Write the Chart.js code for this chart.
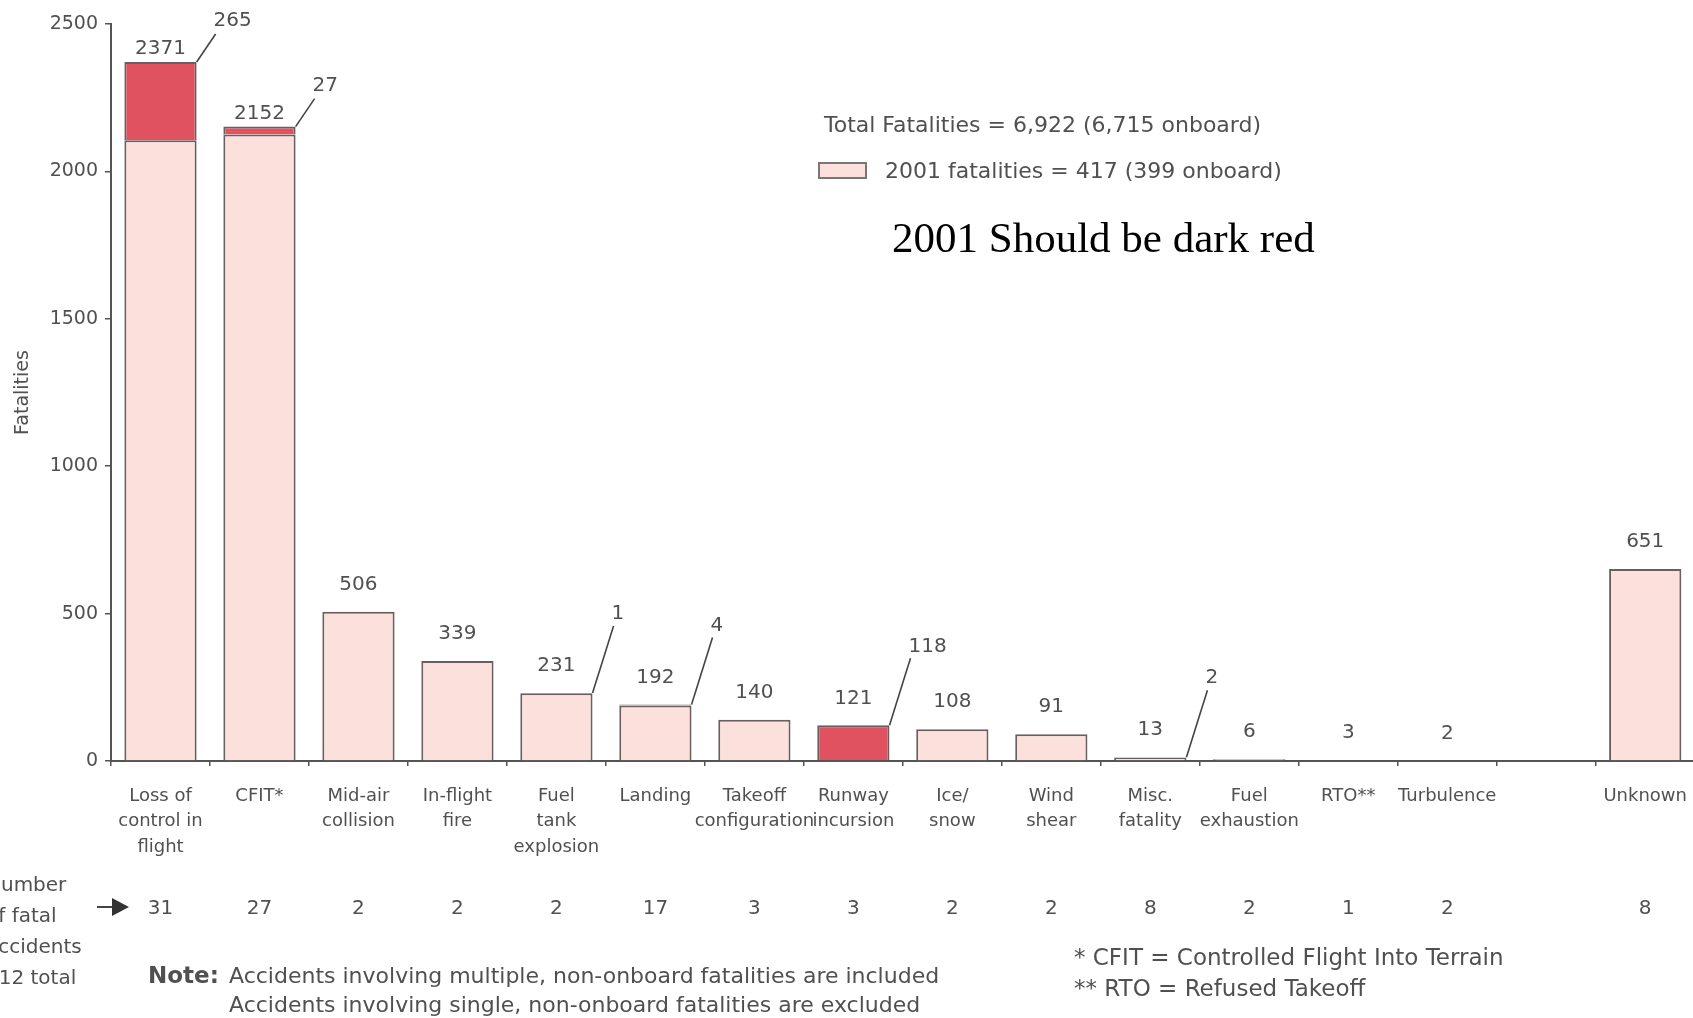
<!DOCTYPE html>
<html>
<head>
    <title>Fatalities by accident category</title>
    <script src="https://cdn.jsdelivr.net/npm/chart.js"></script>
    <style>
        html, body { margin: 0; padding: 0; background: #fff; overflow: hidden; }
        /* slightly wider than the window so the last slot runs to the edge */
        #wrap { width: 1705px; height: 1018px; }
    </style>
</head>
<body>
    <div id="wrap"><canvas id="fatalities"></canvas></div>
    <script>
        // accident categories (one empty slot before "Unknown")
        var categories = [
            ['Loss of', 'control in', 'flight'], 'CFIT*', ['Mid-air', 'collision'], ['In-flight', 'fire'],
            ['Fuel', 'tank', 'explosion'], 'Landing', ['Takeoff', 'configuration'], ['Runway', 'incursion'],
            ['Ice/', 'snow'], ['Wind', 'shear'], ['Misc.', 'fatality'], ['Fuel', 'exhaustion'],
            'RTO**', 'Turbulence', '', 'Unknown'
        ];
        var totalFatalities = [2371, 2152, 506, 339, 231, 192, 140, 121, 108, 91, 13, 6, 3, 2, null, 651];
        var fatalities2001 = [265, 27, 0, 0, 1, 4, 0, 118, 0, 0, 2, 0, 0, 0, null, 0];
        var fatalAccidents = [31, 27, 2, 2, 2, 17, 3, 3, 2, 2, 8, 2, 1, 2, null, 8];
        var yTicks = [0, 500, 1000, 1500, 2000, 2500];

        var totalText = 'Total Fatalities = 6,922 (6,715 onboard)';
        var legendText = '2001 fatalities = 417 (399 onboard)';
        var accidentsText = ['Number', 'of fatal', 'accidents', '112 total'];
        var noteLines = ['Accidents involving multiple, non-onboard fatalities are included',
                         'Accidents involving single, non-onboard fatalities are excluded'];
        var footnotes = ['* CFIT = Controlled Flight Into Terrain', '** RTO = Refused Takeoff'];

        var SANS = '"DejaVu Sans", "Liberation Sans", sans-serif';
        var TEXT = '#505050';
        var PINK = '#fbe0dc';
        var RED = '#e0525f';
        var EDGE = '#6a5e5e';

        // earlier years = total minus the 2001 part
        var earlier = totalFatalities.map(function (t, i) {
            return t == null ? null : t - fatalities2001[i];
        });
        var only2001 = fatalities2001.map(function (v) { return v ? v : null; });

        // labels, callouts, accident counts and notes drawn over the bars
        var extras = {
            id: 'extras',
            afterDatasetsDraw: function (chart) {
                var ctx = chart.ctx;
                var xs = chart.scales.x, ys = chart.scales.y;
                var bars = chart.getDatasetMeta(0).data;
                var area = chart.chartArea;
                ctx.save();
                ctx.fillStyle = TEXT;
                ctx.strokeStyle = '#444';
                ctx.font = '20px ' + SANS;
                ctx.textBaseline = 'middle';

                for (var i = 0; i < categories.length; i++) {
                    if (totalFatalities[i] == null) continue;
                    var cx = xs.getPixelForValue(i);
                    var top = ys.getPixelForValue(totalFatalities[i]);
                    var tall = totalFatalities[i] > 2000;

                    ctx.textAlign = 'center';
                    ctx.fillText(String(totalFatalities[i]), cx, top - (tall ? 13 : 27));

                    if (fatalities2001[i] > 0) {
                        var x0 = cx + bars[i].width / 2;
                        var x1 = x0 + (tall ? 19 : 21);
                        var y1 = top - (tall ? 28 : 67);
                        ctx.lineWidth = 1.6;
                        ctx.beginPath();
                        ctx.moveTo(x0, top);
                        ctx.lineTo(x1, y1);
                        ctx.stroke();
                        ctx.textAlign = 'left';
                        ctx.fillText(String(fatalities2001[i]), x1 - 2, y1 - (tall ? 13 : 12));
                    }

                    ctx.textAlign = 'center';
                    ctx.fillText(String(fatalAccidents[i]), cx, area.bottom + 148);
                }

                // row caption with arrow
                ctx.textAlign = 'left';
                accidentsText.forEach(function (t, k) {
                    ctx.fillText(t, -14, area.bottom + 125 + k * 31);
                });
                var ay = area.bottom + 146;
                ctx.lineWidth = 2;
                ctx.beginPath();
                ctx.moveTo(97, ay);
                ctx.lineTo(114, ay);
                ctx.stroke();
                ctx.fillStyle = '#333';
                ctx.beginPath();
                ctx.moveTo(129, ay);
                ctx.lineTo(112, ay - 9);
                ctx.lineTo(112, ay + 9);
                ctx.closePath();
                ctx.fill();

                // totals box
                ctx.fillStyle = TEXT;
                ctx.font = '22px ' + SANS;
                ctx.fillText(totalText, 824, 126);
                ctx.fillStyle = PINK;
                ctx.fillRect(819, 163, 47, 15);
                ctx.strokeStyle = '#777';
                ctx.lineWidth = 2;
                ctx.strokeRect(819, 163, 47, 15);
                ctx.fillStyle = TEXT;
                ctx.fillText(legendText, 885, 172);

                ctx.fillStyle = '#000';
                ctx.font = '43px "Liberation Serif", "Times New Roman", serif';
                ctx.fillText('2001 Should be dark red', 892, 241);

                // notes
                ctx.fillStyle = TEXT;
                ctx.font = 'bold 23px ' + SANS;
                ctx.fillText('Note:', 148, 977);
                ctx.font = '22px ' + SANS;
                ctx.fillText(noteLines[0], 229, 977);
                ctx.fillText(noteLines[1], 229, 1006);
                ctx.font = '23px ' + SANS;
                ctx.fillText(footnotes[0], 1074, 959);
                ctx.fillText(footnotes[1], 1074, 990);
                ctx.restore();
            }
        };

        var ctx = document.getElementById('fatalities').getContext('2d');
        var chart = new Chart(ctx, {
            type: 'bar',
            data: {
                labels: categories,
                datasets: [{
                    label: 'Before 2001',
                    data: earlier,
                    backgroundColor: PINK,
                    borderColor: EDGE,
                    borderWidth: 2,
                    categoryPercentage: 1,
                    barPercentage: 0.73
                }, {
                    label: '2001',
                    data: only2001,
                    backgroundColor: RED,
                    borderColor: EDGE,
                    borderWidth: 2,
                    categoryPercentage: 1,
                    barPercentage: 0.73
                }]
            },
            options: {
                responsive: true,
                maintainAspectRatio: false,
                animation: false,
                layout: { padding: { top: 24, left: 0, right: 0, bottom: 0 } },
                plugins: {
                    legend: { display: false },
                    tooltip: { enabled: false }
                },
                scales: {
                    x: {
                        stacked: true,
                        afterFit: function (s) { s.height = 257; },
                        grid: { offset: true, drawOnChartArea: false, tickLength: 5, color: '#555', lineWidth: 1.5 },
                        border: { color: '#555', width: 2 },
                        ticks: {
                            autoSkip: false,
                            maxRotation: 0,
                            minRotation: 0,
                            padding: 18,
                            color: TEXT,
                            font: { family: SANS, size: 18, lineHeight: 1.4 }
                        }
                    },
                    y: {
                        stacked: true,
                        min: yTicks[0],
                        max: yTicks[yTicks.length - 1],
                        afterFit: function (s) { s.width = 111; },
                        afterBuildTicks: function (s) {
                            s.ticks = yTicks.map(function (v) { return { value: v }; });
                        },
                        grid: { drawOnChartArea: false, tickLength: 6, color: '#555', lineWidth: 1.5 },
                        border: { color: '#555', width: 2 },
                        ticks: {
                            padding: 7,
                            color: TEXT,
                            font: { family: SANS, size: 19 },
                            callback: function (v) { return String(v); }
                        },
                        title: {
                            display: true,
                            text: 'Fatalities',
                            color: TEXT,
                            padding: { top: 12, bottom: 4 },
                            font: { family: SANS, size: 19 }
                        }
                    }
                }
            },
            plugins: [extras]
        });
    </script>
</body>
</html>
